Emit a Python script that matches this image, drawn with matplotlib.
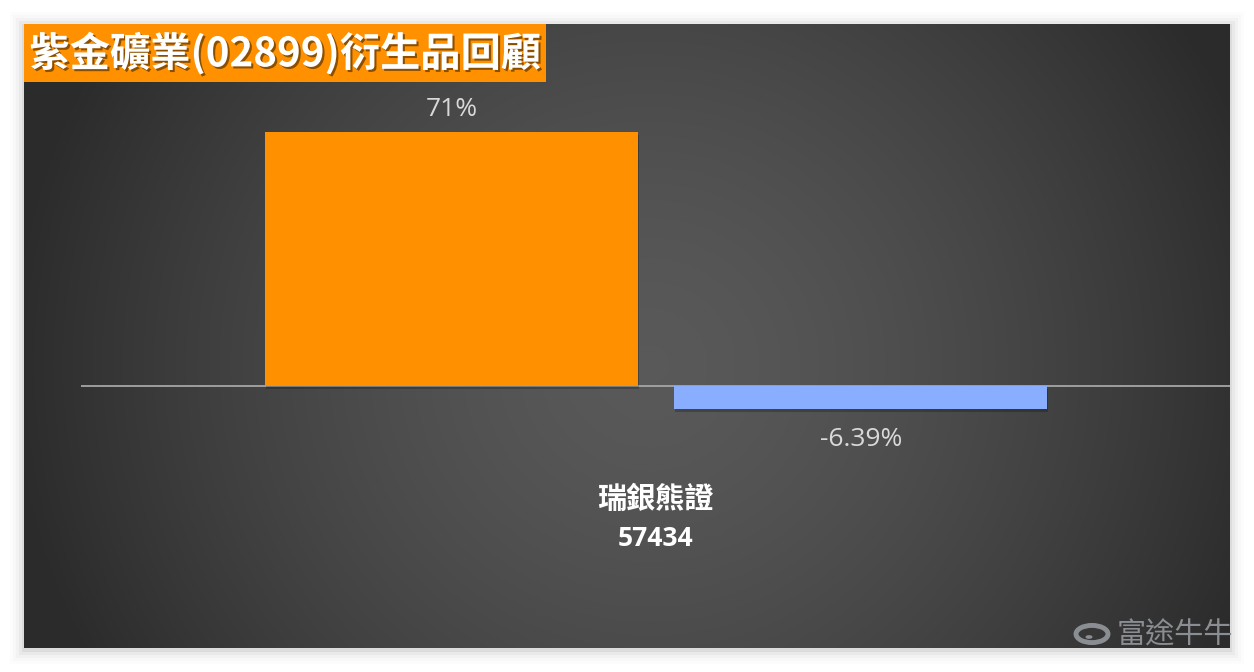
import numpy as np
import matplotlib
matplotlib.use("Agg")
import matplotlib.pyplot as plt
import matplotlib.patheffects as pe
from matplotlib.patches import Rectangle, Circle

plt.rcParams['font.family'] = ['Noto Sans CJK TC', 'DejaVu Sans']

# data
title = "紫金礦業(02899)衍生品回顧"
category_name = "瑞銀熊證"
category_code = "57434"
series_values = [71, -6.39]
series_labels = ["71%", "-6.39%"]
series_colors = ["#FF9000", "#8AAEFF"]

W, H = 1254, 672
fig = plt.figure(figsize=(W / 100, H / 100), dpi=100)
fig.patch.set_facecolor("white")


def fig_rect(x0, y0, x1, y1):
    # pixel box (top-left origin) -> figure fraction rect
    return [x0 / W, 1 - y1 / H, (x1 - x0) / W, (y1 - y0) / H]


# soft shadow around the dark panel
for i, a in enumerate([0.05, 0.035, 0.025, 0.015, 0.01]):
    d = 2 + i * 3
    fig.patches.append(Rectangle(((24 - d) / W, (24 - d - 2) / H), (1206 + 2 * d) / W,
                                 (624 + 2 * d) / H, transform=fig.transFigure,
                                 facecolor="black", alpha=a, edgecolor="none", zorder=-10))

# dark panel with radial gradient
bg = fig.add_axes(fig_rect(24, 24, 1230, 648))
bg.set_axis_off()
yy, xx = np.mgrid[0:624, 0:1206]
r = np.sqrt(((xx - 625) / 640.0) ** 2 + ((yy - 340) / 620.0) ** 2)
r = np.clip(r, 0, 1)
val = 0.35 - (0.35 - 0.17) * r ** 1.5
img = np.dstack([val, val, val])
bg.imshow(img, aspect="auto", extent=(0, 1, 0, 1), interpolation="bilinear")
bg.set_xlim(0, 1)
bg.set_ylim(0, 1)

# chart axes: x from 81 to 1230, zero line at y=386
px_per_unit = (386 - 132) / 71.0
top_px, bot_px = 100, 620
ax = fig.add_axes(fig_rect(81, top_px, 1230, bot_px))
ax.patch.set_alpha(0)
ax.set_xlim(-0.5, 0.5)
ax.set_ylim(-(bot_px - 386) / px_per_unit, (386 - top_px) / px_per_unit)
for s in ax.spines.values():
    s.set_visible(False)
ax.set_xticks([])
ax.set_yticks([])

bar_w = 0.3246
offsets = [-0.1775, 0.1788]
shadow = [pe.SimplePatchShadow(offset=(0.5, -2.0), shadow_rgbFace="black", alpha=0.22), pe.Normal()]
for off, v, lab, c in zip(offsets, series_values, series_labels, series_colors):
    b = ax.bar(off, v, bar_w, color=c, zorder=3)
    for p in b:
        p.set_path_effects(shadow)
    if v >= 0:
        ax.annotate(lab, (off, v), xytext=(0, 7.5), textcoords="offset points",
                    ha="center", va="bottom", fontsize=19, color="#D9D9D9",
                    family=["Open Sans", "DejaVu Sans"])
    else:
        ax.annotate(lab, (off, v), xytext=(0, -13), textcoords="offset points",
                    ha="center", va="top", fontsize=19, color="#D9D9D9",
                    family=["Open Sans", "DejaVu Sans"])

ax.axhline(0, color="#A6A6A6", lw=1.3, zorder=2)

ax.text(0, -(499 - 386) / px_per_unit, category_name, ha="center", va="center",
        fontsize=21, fontweight="bold", color="white")
ax.text(0, -(538 - 386) / px_per_unit, category_code, ha="center", va="center",
        fontsize=19, fontweight="bold", color="white",
        family=["Open Sans", "DejaVu Sans"])

# title box
fig.patches.append(Rectangle((24 / W, 1 - 82 / H), (546 - 24) / W, 58 / H,
                             transform=fig.transFigure, facecolor="#FF9000",
                             edgecolor="none", zorder=5))
fig.text(285 / W, 1 - 54 / H, title, ha="center", va="center", fontsize=29,
         fontweight="bold", color="white", zorder=6,
         path_effects=[pe.withSimplePatchShadow(offset=(1.5, -1.5), shadow_rgbFace="black", alpha=0.45)])

# watermark
fig.text(1233 / W, 1 - 636 / H, "富途牛牛", ha="right", va="center", fontsize=21,
         color="#8A8E93", zorder=6)
fig.patches.append(Circle((1092 / W, 1 - 634 / H), 16 / W, transform=fig.transFigure,
                          facecolor="none", edgecolor="#8A8E93", lw=3.5, zorder=6))
fig.patches.append(Circle((1089 / W, 1 - 637 / H), 3.5 / W, transform=fig.transFigure,
                          facecolor="#8A8E93", edgecolor="none", zorder=6))

fig.savefig("out.png", dpi=100, facecolor="white")
